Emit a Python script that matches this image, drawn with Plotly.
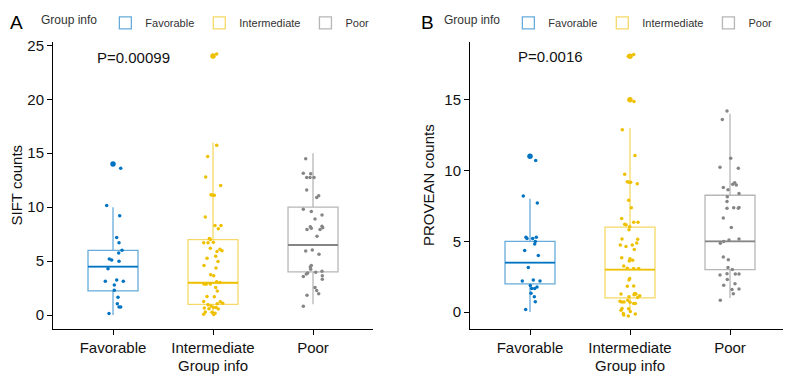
import plotly.graph_objects as go

# ---------------- data ----------------
categories = ["Favorable", "Intermediate", "Poor"]
legend_title = "Group info"

# Panel A: SIFT counts -- box statistics per group (q1, median, q3, lower whisker, upper whisker)
sift_q1 = [2.25, 1.0, 4.0]
sift_median = [4.5, 3.0, 6.5]
sift_q3 = [6.0, 7.0, 10.0]
sift_low = [0.0, 0.0, 1.0]
sift_high = [10.0, 16.0, 15.0]
sift_outliers = {"Favorable": [14.0], "Intermediate": [24.0], "Poor": []}

# jittered observations: value and horizontal jitter (category units)
sift_fav_y = [13.95, 13.6, 10.15, 9.2, 7.2, 6.7, 6.0, 5.75, 5.2, 5.1, 5.0, 4.3, 3.15, 3.25, 3.15,
              2.8, 2.3, 1.65, 1.05, 0.75, 0.75, 0.15]
sift_fav_jit = [0.0, 0.077, -0.063, 0.067, 0.037, 0.06, 0.09, 0.057, -0.037, -0.013, 0.06, -0.05,
                -0.077, 0.037, 0.103, 0.013, 0.013, 0.05, 0.043, 0.06, 0.077, -0.04]
sift_int_y = [24.2, 23.95, 15.75, 14.7, 12.8, 12.0, 11.15, 11.1, 11.1, 9.1, 8.3, 8.3, 8.0, 7.1, 7.0,
              6.7, 6.7, 6.75, 6.2, 6.1, 5.97, 5.9, 5.45, 5.27, 4.97, 4.6, 4.36, 3.75, 3.64, 3.1,
              3.03, 2.88, 2.85, 2.88, 2.57, 2.24, 1.73, 1.7, 1.27, 1.23, 1.05, 0.97, 0.85, 1.1,
              0.66, 0.6, 0.7, 0.7, 0.57, 0.3, 0.27, 0.09, 0.18, 0.06]
sift_int_jit = [0.037, 0.0, 0.037, -0.053, -0.073, 0.077, -0.02, -0.003, 0.013, -0.077, 0.02, 0.08,
                0.053, -0.037, -0.027, -0.093, -0.05, 0.003, -0.027, 0.07, 0.09, 0.04, 0.027,
                -0.06, 0.05, -0.09, 0.03, -0.023, 0.007, 0.037, 0.07, -0.09, -0.07, -0.027,
                0.027, 0.043, -0.06, 0.013, -0.093, 0.073, 0.043, -0.05, -0.02, 0.097, -0.087,
                -0.04, 0.003, 0.03, 0.053, -0.077, -0.01, -0.093, 0.02, 0.007]
sift_poor_y = [14.5, 13.15, 13.1, 12.75, 12.75, 12.75, 11.6, 11.05, 10.9, 9.8, 9.6, 9.27, 8.9, 8.2,
               8.06, 7.94, 7.94, 8.24, 8.1, 7.3, 5.94, 6.03, 5.64, 4.6, 4.45, 4.25, 3.9, 3.8, 3.97,
               4.06, 3.58, 3.64, 3.33, 2.55, 2.27, 1.97, 1.85, 0.82]
sift_poor_jit = [-0.073, -0.097, -0.023, -0.063, -0.03, 0.01, -0.063, 0.057, 0.037, -0.097, -0.017,
                 0.09, 0.02, -0.027, -0.017, -0.06, 0.07, 0.09, 0.097, 0.04, -0.073, -0.007, 0.06,
                 -0.017, -0.027, -0.023, -0.053, -0.067, 0.027, 0.09, -0.097, 0.093, 0.093, 0.02,
                 0.037, 0.057, -0.06, -0.097]

# Panel B: PROVEAN counts
prov_q1 = [2.0, 1.0, 3.0]
prov_median = [3.5, 3.0, 5.0]
prov_q3 = [5.0, 6.0, 8.25]
prov_low = [0.0, 0.0, 1.0]
prov_high = [8.0, 13.0, 14.0]
prov_outliers = {"Favorable": [11.0], "Intermediate": [18.06, 15.0], "Poor": []}

prov_fav_y = [11.0, 10.7, 8.2, 7.7, 5.28, 5.2, 5.2, 5.28, 4.98, 4.81, 4.35, 4.0, 3.15, 2.2, 2.27,
              2.2, 1.87, 1.67, 1.78, 1.67, 1.34, 1.09, 0.74, 0.19]
prov_fav_jit = [-0.003, 0.057, -0.067, 0.073, -0.04, -0.03, 0.027, 0.063, 0.053, 0.047, -0.053,
                0.083, -0.017, -0.077, 0.033, 0.1, 0.003, 0.017, 0.07, 0.047, 0.01, 0.043, 0.053,
                -0.043]
prov_int_y = [18.06, 18.19, 15.0, 14.86, 12.87, 11.06, 9.74, 9.21, 9.17, 9.17, 9.07, 7.9, 7.36, 6.6,
              6.34, 6.34, 6.2, 6.16, 6.02, 5.81, 5.16, 5.14, 4.88, 4.74, 4.63, 4.74, 4.42, 3.84,
              3.77, 3.66, 3.61, 3.26, 3.1, 3.08, 3.08, 2.38, 2.27, 1.83, 1.85, 1.27, 1.27, 1.23,
              1.32, 1.09, 1.16, 1.04, 0.76, 0.72, 0.72, 0.83, 0.69, 0.6, 0.6, 0.26, 0.14, 0.23,
              0.05, -0.09, -0.21, -0.14, -0.28]
prov_int_jit = [-0.017, 0.037, -0.007, 0.04, -0.077, 0.05, -0.053, -0.027, -0.01, 0.007, 0.073,
                -0.013, 0.013, -0.083, 0.037, 0.08, -0.053, -0.04, -0.003, -0.01, -0.08, 0.077,
                0.067, -0.097, -0.04, 0.023, 0.043, -0.083, 0.0, 0.027, -0.007, -0.063, -0.027,
                0.037, 0.087, -0.003, -0.01, -0.027, 0.037, -0.09, 0.06, 0.04, 0.047, -0.01, 0.097,
                0.077, -0.1, -0.083, -0.06, -0.023, 0.0, 0.037, 0.053, -0.08, -0.09, -0.013, 0.003,
                -0.067, -0.063, 0.053, -0.017]
prov_poor_y = [14.19, 13.6, 10.86, 10.23, 10.16, 9.03, 9.14, 8.98, 8.8, 8.63, 8.38, 8.15, 7.8, 7.34,
               7.36, 7.34, 7.38, 6.64, 5.97, 5.16, 5.09, 4.98, 4.86, 3.89, 3.7, 3.15, 3.0, 2.62,
               2.71, 2.69, 2.69, 2.31, 2.01, 1.9, 1.64, 1.6, 1.3, 0.83]
prov_poor_jit = [-0.03, -0.077, 0.007, -0.1, 0.083, 0.027, 0.047, 0.063, -0.067, -0.02, 0.09,
                 -0.027, -0.03, -0.03, 0.037, 0.083, 0.09, -0.067, 0.013, 0.09, -0.01, -0.063,
                 -0.097, -0.067, -0.017, -0.02, 0.023, -0.1, -0.03, 0.053, 0.09, -0.027, 0.05,
                 -0.063, 0.09, 0.02, 0.033, -0.097]

p_value_a = "P=0.00099"
p_value_b = "P=0.0016"

# ---------------- style ----------------
colors = ["#0073C2", "#EFC000", "#868686"]
box_line = ["rgba(0,115,194,0.6)", "rgba(239,192,0,0.6)", "rgba(134,134,134,0.6)"]
FONT = "Liberation Sans, Arial, Helvetica, sans-serif"
BOX_W = 0.5

fig = go.Figure()

panels = [
    dict(xa="x", ya="y", legend="legend",
         q1=sift_q1, med=sift_median, q3=sift_q3, lo=sift_low, hi=sift_high, out=sift_outliers,
         pts=[(sift_fav_y, sift_fav_jit), (sift_int_y, sift_int_jit), (sift_poor_y, sift_poor_jit)]),
    dict(xa="x2", ya="y2", legend="legend2",
         q1=prov_q1, med=prov_median, q3=prov_q3, lo=prov_low, hi=prov_high, out=prov_outliers,
         pts=[(prov_fav_y, prov_fav_jit), (prov_int_y, prov_int_jit), (prov_poor_y, prov_poor_jit)]),
]

for p in panels:
    for i, cat in enumerate(categories):
        pos = i + 1
        fig.add_trace(go.Box(
            x=[pos], q1=[p["q1"][i]], median=[p["med"][i]], q3=[p["q3"][i]],
            lowerfence=[p["lo"][i]], upperfence=[p["hi"][i]],
            width=BOX_W, whiskerwidth=0, boxpoints=False,
            line=dict(color=box_line[i], width=1.3), fillcolor="rgba(255,255,255,0)",
            name=cat, legend=p["legend"], xaxis=p["xa"], yaxis=p["ya"], hoverinfo="skip"))
        # median (thicker, like ggplot's fatten)
        fig.add_trace(go.Scatter(
            x=[pos - BOX_W / 2, pos + BOX_W / 2], y=[p["med"][i]] * 2, mode="lines",
            line=dict(color=colors[i], width=1.8), showlegend=False,
            xaxis=p["xa"], yaxis=p["ya"], hoverinfo="skip"))
        ys, js = p["pts"][i]
        fig.add_trace(go.Scatter(
            x=[pos + j for j in js], y=ys, mode="markers",
            marker=dict(color=colors[i], size=3.5, line=dict(width=0)),
            showlegend=False, xaxis=p["xa"], yaxis=p["ya"], hoverinfo="skip"))
        outs = p["out"][cat]
        if outs:
            fig.add_trace(go.Scatter(
                x=[pos] * len(outs), y=outs, mode="markers",
                marker=dict(color=colors[i], size=5.5, line=dict(width=0)),
                showlegend=False, xaxis=p["xa"], yaxis=p["ya"], hoverinfo="skip"))

# The page body adds an 8px margin, so the figure is 8px smaller than the window and
# all layout positions below are expressed relative to the figure's own corner.
OFF = 8
W, H = 791 - OFF, 379 - OFF


def px_x(v):
    return (v - OFF) / W


def px_y(v):
    return 1 - (v - OFF) / H


ydom = [px_y(328), px_y(36)]
axis_common = dict(showline=True, linecolor="#000000", linewidth=1, ticks="outside", ticklen=5,
                   tickcolor="#000000", tickwidth=1, showgrid=False, zeroline=False,
                   tickfont=dict(family=FONT, size=15, color="#111111"),
                   title_font=dict(family=FONT, size=15, color="#111111"), automargin=False)

legend_common = dict(orientation="h", xanchor="center", yanchor="middle", y=px_y(17),
                     font=dict(family=FONT, size=11, color="#333333"),
                     title=dict(text=legend_title, side="left",
                                font=dict(family=FONT, size=12, color="#333333")),
                     itemwidth=30, bgcolor="rgba(0,0,0,0)", tracegroupgap=0)

fig.update_layout(
    width=W, height=H, template="none",
    paper_bgcolor="white", plot_bgcolor="white",
    margin=dict(l=0, r=0, t=0, b=0),
    showlegend=True,
    legend=dict(x=px_x(207), **legend_common),
    legend2=dict(x=px_x(610), **legend_common),
    xaxis=dict(domain=[px_x(53), px_x(373)], range=[0.4, 3.6], tickvals=[1, 2, 3], ticktext=categories,
               title=dict(text=legend_title, standoff=5), anchor="y", **axis_common),
    yaxis=dict(domain=ydom, range=[-1.27, 25.35], tickvals=[0, 5, 10, 15, 20, 25],
               title=dict(text="SIFT counts", standoff=8), anchor="x", **axis_common),
    xaxis2=dict(domain=[px_x(470), px_x(790)], range=[0.4, 3.6], tickvals=[1, 2, 3], ticktext=categories,
                title=dict(text=legend_title, standoff=5), anchor="y2", **axis_common),
    yaxis2=dict(domain=ydom, range=[-1.18, 19.1], tickvals=[0, 5, 10, 15],
                title=dict(text="PROVEAN counts", standoff=6), anchor="x2", **axis_common),
    annotations=[
        dict(text="A", x=px_x(16), y=px_y(17), xref="paper", yref="paper", showarrow=False,
             xanchor="center", yanchor="middle", font=dict(family=FONT, size=19, color="#000")),
        dict(text="B", x=px_x(427), y=px_y(17), xref="paper", yref="paper", showarrow=False,
             xanchor="center", yanchor="middle", font=dict(family=FONT, size=19, color="#000")),
        dict(text=p_value_a, x=0.82, y=23.9, xref="x", yref="y", showarrow=False,
             xanchor="left", yanchor="middle", font=dict(family=FONT, size=15, color="#111")),
        dict(text=p_value_b, x=0.857, y=18.05, xref="x2", yref="y2", showarrow=False,
             xanchor="left", yanchor="middle", font=dict(family=FONT, size=15, color="#111")),
    ],
)

fig.write_html("out.html")
